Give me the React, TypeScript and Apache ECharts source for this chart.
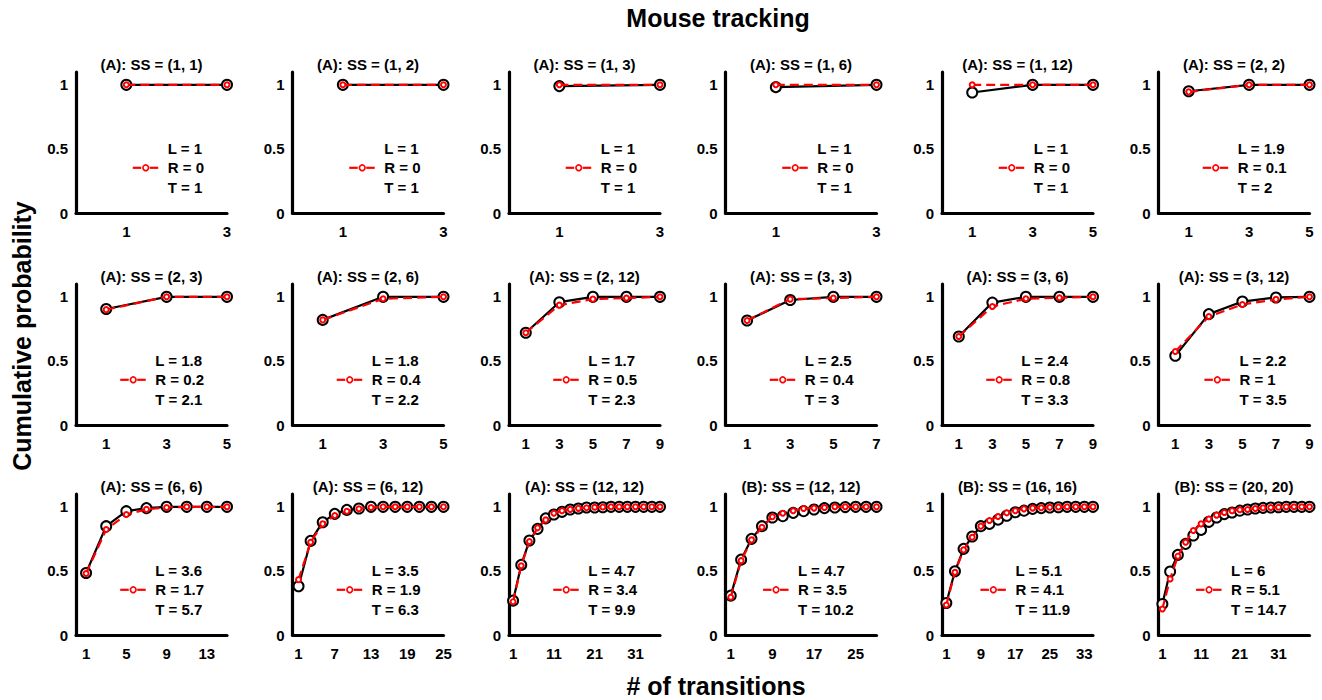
import React, { useEffect, useRef } from "react";
import * as echarts from "echarts";

const FONT = "'Liberation Sans', Arial, Helvetica, sans-serif";

const mainTitle = "Mouse tracking";
const xAxisName = "# of transitions";
const yAxisName = "Cumulative probability";

const panelTitles = [
  "(A): SS = (1, 1)", "(A): SS = (1, 2)", "(A): SS = (1, 3)", "(A): SS = (1, 6)", "(A): SS = (1, 12)", "(A): SS = (2, 2)",
  "(A): SS = (2, 3)", "(A): SS = (2, 6)", "(A): SS = (2, 12)", "(A): SS = (3, 3)", "(A): SS = (3, 6)", "(A): SS = (3, 12)",
  "(A): SS = (6, 6)", "(A): SS = (6, 12)", "(A): SS = (12, 12)", "(B): SS = (12, 12)", "(B): SS = (16, 16)", "(B): SS = (20, 20)",
];

const xMax = [3, 3, 3, 3, 5, 5, 5, 5, 9, 7, 9, 9, 15, 25, 37, 29, 35, 39];

const xTicks = [
  [1, 3], [1, 3], [1, 3], [1, 3], [1, 3, 5], [1, 3, 5],
  [1, 3, 5], [1, 3, 5], [1, 3, 5, 7, 9], [1, 3, 5, 7], [1, 3, 5, 7, 9], [1, 3, 5, 7, 9],
  [1, 5, 9, 13], [1, 7, 13, 19, 25], [1, 11, 21, 31], [1, 9, 17, 25], [1, 9, 17, 25, 33], [1, 11, 21, 31],
];
const yTicks = [0, 0.5, 1];

const x3 = [1, 3];
const x5 = [1, 3, 5];
const x7 = [1, 3, 5, 7];
const x9 = [1, 3, 5, 7, 9];
const x15 = [1, 3, 5, 7, 9, 11, 13, 15];
const x25 = [1, 3, 5, 7, 9, 11, 13, 15, 17, 19, 21, 23, 25];
const x29 = [1, 3, 5, 7, 9, 11, 13, 15, 17, 19, 21, 23, 25, 27, 29];
const x35 = [1, 3, 5, 7, 9, 11, 13, 15, 17, 19, 21, 23, 25, 27, 29, 31, 33, 35];
const x37 = [1, 3, 5, 7, 9, 11, 13, 15, 17, 19, 21, 23, 25, 27, 29, 31, 33, 35, 37];
const x39 = [1, 3, 5, 7, 9, 11, 13, 15, 17, 19, 21, 23, 25, 27, 29, 31, 33, 35, 37, 39];

const xPoints = [x3, x3, x3, x3, x5, x5, x5, x5, x9, x7, x9, x9, x15, x25, x37, x29, x35, x39];

// black: observed (large open circles, solid line)
const blackY = [
  [1, 1],
  [1, 1],
  [0.99, 1],
  [0.982, 1],
  [0.94, 1, 1],
  [0.95, 1, 1],
  [0.905, 1, 1],
  [0.82, 1, 1],
  [0.72, 0.958, 1, 1, 1],
  [0.815, 0.975, 1, 1],
  [0.69, 0.955, 1, 1, 1],
  [0.54, 0.865, 0.963, 0.995, 1],
  [0.484, 0.849, 0.966, 0.99, 1, 1, 1, 1],
  [0.38, 0.734, 0.88, 0.945, 0.976, 0.987, 1, 1, 1, 1, 1, 1, 1],
  [0.268, 0.547, 0.737, 0.828, 0.91, 0.94, 0.961, 0.979, 0.987, 0.995, 0.995, 0.997, 1, 1, 1, 1, 1, 1, 1],
  [0.307, 0.588, 0.75, 0.849, 0.917, 0.927, 0.953, 0.966, 0.979, 0.99, 0.995, 0.998, 1, 1, 1],
  [0.25, 0.497, 0.672, 0.768, 0.849, 0.867, 0.9, 0.93, 0.958, 0.97, 0.984, 0.99, 0.995, 0.997, 1, 1, 1, 1],
  [0.242, 0.495, 0.625, 0.711, 0.776, 0.82, 0.883, 0.917, 0.943, 0.956, 0.97, 0.979, 0.987, 0.992, 0.995, 0.997, 1, 1, 1, 1],
];

// red: model (small open circles, dashed line)
const redY = [
  [1, 1],
  [1, 1],
  [1, 1],
  [1, 1],
  [1, 1, 1],
  [0.945, 1, 1],
  [0.9, 1, 1],
  [0.82, 0.985, 1],
  [0.72, 0.935, 0.982, 0.99, 1],
  [0.815, 0.982, 0.99, 1],
  [0.69, 0.925, 0.985, 0.992, 1],
  [0.573, 0.846, 0.94, 0.98, 1],
  [0.48, 0.823, 0.94, 0.98, 0.995, 1, 1, 1],
  [0.432, 0.724, 0.867, 0.932, 0.966, 0.985, 0.995, 1, 1, 1, 1, 1, 1],
  [0.26, 0.54, 0.73, 0.836, 0.898, 0.95, 0.97, 0.98, 0.988, 0.993, 0.996, 0.998, 1, 1, 1, 1, 1, 1, 1],
  [0.294, 0.58, 0.742, 0.841, 0.922, 0.95, 0.969, 0.987, 0.99, 0.994, 1, 1, 1, 1, 1],
  [0.234, 0.49, 0.664, 0.763, 0.849, 0.893, 0.924, 0.953, 0.97, 0.984, 0.99, 0.993, 0.996, 0.998, 1, 1, 1, 1],
  [0.203, 0.4375, 0.615, 0.724, 0.815, 0.867, 0.904, 0.935, 0.956, 0.97, 0.977, 0.979, 0.987, 0.992, 0.995, 0.997, 1, 1, 1, 1],
];

const statL = ["1", "1", "1", "1", "1", "1.9", "1.8", "1.8", "1.7", "2.5", "2.4", "2.2", "3.6", "3.5", "4.7", "4.7", "5.1", "6"];
const statR = ["0", "0", "0", "0", "0", "0.1", "0.2", "0.4", "0.5", "0.4", "0.8", "1", "1.7", "1.9", "3.4", "3.5", "4.1", "5.1"];
const statT = ["1", "1", "1", "1", "1", "2", "2.1", "2.2", "2.3", "3", "3.3", "3.5", "5.7", "6.3", "9.9", "10.2", "11.9", "14.7"];

const ROW_TOP = [72, 284, 494];
const COL0 = 76;
const COL_STEP = 216.5;
const GRID_W = 151;
const GRID_H = 141;

export default function App() {
  const ref = useRef<HTMLDivElement>(null);

  useEffect(() => {
    if (!ref.current) return;
    const chart = echarts.init(ref.current, null, { renderer: "svg" });
    const canvas = document.createElement("canvas");
    const ctx = canvas.getContext("2d");
    const smallFont = `bold 15px ${FONT}`;
    if (ctx) ctx.font = smallFont;
    const measure = (s: string) => (ctx ? ctx.measureText(s).width : s.length * 8);

    const grid: any[] = [];
    const xAxis: any[] = [];
    const yAxis: any[] = [];
    const series: any[] = [];
    const graphic: any[] = [];

    const labelStyle = { color: "#000", fontWeight: "bold", fontSize: 15, fontFamily: FONT };

    for (let i = 0; i < panelTitles.length; i++) {
      const r = Math.floor(i / 6);
      const c = i % 6;
      const left = COL0 + c * COL_STEP;
      const top = ROW_TOP[r];
      grid.push({ left, top, width: GRID_W, height: GRID_H, containLabel: false, outerBoundsMode: "none" });
      xAxis.push({
        type: "value",
        gridIndex: i,
        min: 0,
        max: xMax[i],
        axisLine: { show: true, onZero: false, lineStyle: { color: "#000", width: 3.2 } },
        axisTick: { show: false },
        splitLine: { show: false },
        axisLabel: { ...labelStyle, customValues: xTicks[i], margin: 11 },
      });
      yAxis.push({
        type: "value",
        gridIndex: i,
        min: 0,
        max: 1.1,
        axisLine: { show: true, onZero: false, lineStyle: { color: "#000", width: 3.2 } },
        axisTick: { show: false },
        splitLine: { show: false },
        axisLabel: { ...labelStyle, customValues: yTicks, margin: 8 },
      });
      series.push({
        type: "line",
        xAxisIndex: i,
        yAxisIndex: i,
        data: xPoints[i].map((x, k) => [x, blackY[i][k]]),
        symbol: "emptyCircle",
        symbolSize: 10,
        showAllSymbol: true,
        clip: false,
        silent: true,
        z: 2,
        itemStyle: { color: "#000", borderColor: "#000", borderWidth: 2.6 },
        lineStyle: { color: "#000", width: 2.2 },
      });
      series.push({
        type: "line",
        xAxisIndex: i,
        yAxisIndex: i,
        data: xPoints[i].map((x, k) => [x, redY[i][k]]),
        symbol: "emptyCircle",
        symbolSize: 5,
        showAllSymbol: true,
        clip: false,
        silent: true,
        z: 3,
        itemStyle: { color: "#ff0000", borderColor: "#ff0000", borderWidth: 1.7 },
        lineStyle: { color: "#ff0000", width: 2.2, type: [9, 5] },
      });

      // panel title
      graphic.push({
        type: "text",
        x: left + GRID_W / 2,
        y: top - 8,
        silent: true,
        style: { text: panelTitles[i], font: smallFont, fill: "#000", textAlign: "center", textVerticalAlign: "middle" },
      });

      // stats legend
      const lines = [`L = ${statL[i]}`, `R = ${statR[i]}`, `T = ${statT[i]}`];
      const maxW = Math.max(...lines.map(measure));
      const textLeft = left + 128 - maxW;
      const ys = [top + 76.8, top + 95.8, top + 115.2];
      lines.forEach((t, k) => {
        graphic.push({
          type: "text",
          x: textLeft,
          y: ys[k],
          silent: true,
          style: { text: t, font: smallFont, fill: "#000", textAlign: "left", textVerticalAlign: "middle" },
        });
      });
      const mx = textLeft - 35;
      const my = ys[1];
      graphic.push({
        type: "line",
        silent: true,
        shape: { x1: mx, y1: my, x2: mx + 8.5, y2: my },
        style: { stroke: "#ff0000", lineWidth: 2.2 },
      });
      graphic.push({
        type: "line",
        silent: true,
        shape: { x1: mx + 17, y1: my, x2: mx + 25.5, y2: my },
        style: { stroke: "#ff0000", lineWidth: 2.2 },
      });
      graphic.push({
        type: "circle",
        silent: true,
        shape: { cx: mx + 13, cy: my, r: 2.8 },
        style: { stroke: "#ff0000", lineWidth: 1.7, fill: "#fff" },
      });
    }

    const bigFont = `bold 25px ${FONT}`;
    graphic.push({
      type: "text",
      x: 718,
      y: 18,
      silent: true,
      style: { text: mainTitle, font: bigFont, fill: "#000", textAlign: "center", textVerticalAlign: "middle" },
    });
    graphic.push({
      type: "text",
      x: 716,
      y: 686,
      silent: true,
      style: { text: xAxisName, font: bigFont, fill: "#000", textAlign: "center", textVerticalAlign: "middle" },
    });
    graphic.push({
      type: "text",
      x: 22,
      y: 336,
      rotation: Math.PI / 2,
      silent: true,
      style: { text: yAxisName, font: bigFont, fill: "#000", textAlign: "center", textVerticalAlign: "middle" },
    });

    chart.setOption({
      animation: false,
      backgroundColor: "#fff",
      grid,
      xAxis,
      yAxis,
      series,
      graphic,
    });

    return () => {
      chart.dispose();
    };
  }, []);

  return (
    <div
      ref={ref}
      style={{ position: "absolute", left: 0, top: 0, width: 1322, height: 700, background: "#fff" }}
    />
  );
}
